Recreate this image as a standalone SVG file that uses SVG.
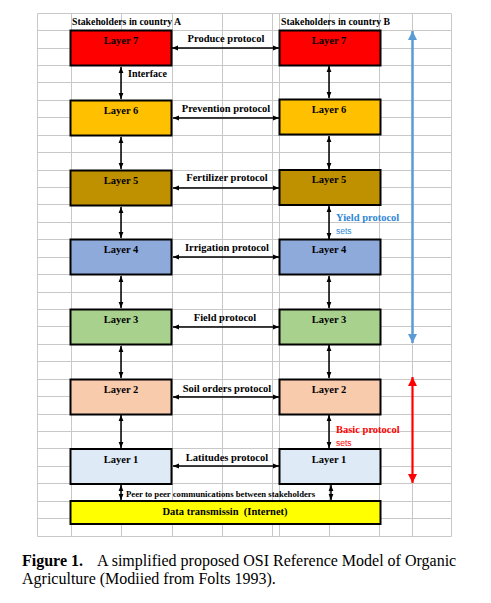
<svg xmlns="http://www.w3.org/2000/svg" width="491" height="603" viewBox="0 0 491 603">
<style>
.grid{stroke:#c8c8c8;stroke-width:1;fill:none}
.box{stroke:#000;stroke-width:2}
.t{font-family:"Liberation Serif","Times New Roman",serif;font-weight:bold;font-size:10.5px;fill:#000}
.lt{text-anchor:middle}
.c{stroke:#000;stroke-width:1.5;fill:none;marker-start:url(#ah);marker-end:url(#ah)}
.sets{font-family:"Liberation Sans",Arial,sans-serif;font-size:8.5px}
.cap{font-family:"Liberation Serif","Times New Roman",serif;font-size:16px;fill:#000}
</style>
<defs>
<marker id="ah" viewBox="0 0 10 10" refX="10" refY="5" markerWidth="6" markerHeight="6" markerUnits="userSpaceOnUse" orient="auto-start-reverse"><path d="M0,1 L10,5 L0,9 z" fill="#000"/></marker>
<marker id="ahb" viewBox="0 0 10 10" refX="10" refY="5" markerWidth="9" markerHeight="10" markerUnits="userSpaceOnUse" orient="auto-start-reverse"><path d="M0,0 L10,5 L0,10 z" fill="#5b9bd5"/></marker>
<marker id="ahr" viewBox="0 0 10 10" refX="10" refY="5" markerWidth="9" markerHeight="10" markerUnits="userSpaceOnUse" orient="auto-start-reverse"><path d="M0,0 L10,5 L0,10 z" fill="#ff0000"/></marker>
</defs>
<rect width="491" height="603" fill="#fff"/>
<g id="grid" class="grid">
<path d="M37.5,13.5V536.5M71.5,13.5V536.5M121.5,13.5V536.5M172.5,13.5V536.5M222.5,13.5V536.5M272.5,13.5V536.5M279.5,13.5V536.5M329.5,13.5V536.5M379.5,13.5V536.5M412.5,13.5V536.5M451.5,13.5V536.5"/>
<path d="M37.5,13.5H451.5M37.5,30.5H451.5M37.5,48.5H451.5M37.5,65.5H451.5M37.5,82.5H451.5M37.5,100.5H451.5M37.5,117.5H451.5M37.5,135.5H451.5M37.5,152.5H451.5M37.5,170.5H451.5M37.5,187.5H451.5M37.5,204.5H451.5M37.5,222.5H451.5M37.5,239.5H451.5M37.5,257.5H451.5M37.5,274.5H451.5M37.5,292.5H451.5M37.5,309.5H451.5M37.5,326.5H451.5M37.5,344.5H451.5M37.5,361.5H451.5M37.5,379.5H451.5M37.5,396.5H451.5M37.5,414.5H451.5M37.5,431.5H451.5M37.5,448.5H451.5M37.5,466.5H451.5M37.5,483.5H451.5M37.5,501.5H451.5M37.5,518.5H451.5M37.5,536.5H451.5"/>
</g>
<text class="t" x="72" y="25" style="font-size:9.8px">Stakeholders in country A</text>
<text class="t" x="281" y="25" style="font-size:9.8px">Stakeholders in country B</text>
<g id="connectors">
<line class="c" x1="172" y1="48" x2="279" y2="48"/>
<line class="c" x1="173" y1="118" x2="279" y2="118"/>
<line class="c" x1="173" y1="188" x2="279" y2="188"/>
<line class="c" x1="173" y1="257" x2="279" y2="257"/>
<line class="c" x1="173" y1="327" x2="279" y2="327"/>
<line class="c" x1="173" y1="397" x2="279" y2="397"/>
<line class="c" x1="173" y1="466" x2="279" y2="466"/>
<line class="c" x1="121" y1="67" x2="121" y2="99"/>
<line class="c" x1="121" y1="137" x2="121" y2="169"/>
<line class="c" x1="121" y1="207" x2="121" y2="238"/>
<line class="c" x1="121" y1="276" x2="121" y2="308"/>
<line class="c" x1="121" y1="346" x2="121" y2="378"/>
<line class="c" x1="121" y1="415" x2="121" y2="448"/>
<line class="c" x1="121" y1="485" x2="121" y2="500"/>
<line class="c" x1="329" y1="66" x2="329" y2="98"/>
<line class="c" x1="329" y1="136" x2="329" y2="169"/>
<line class="c" x1="329" y1="206" x2="329" y2="239"/>
<line class="c" x1="329" y1="276" x2="329" y2="308"/>
<line class="c" x1="329" y1="345" x2="329" y2="378"/>
<line class="c" x1="329" y1="415" x2="329" y2="448"/>
<line class="c" x1="331" y1="485" x2="331" y2="500"/>
<line x1="412.5" y1="31" x2="412.5" y2="343" stroke="#5b9bd5" stroke-width="2.5" marker-start="url(#ahb)" marker-end="url(#ahb)"/>
<line x1="412.5" y1="377" x2="412.5" y2="483" stroke="#ff0000" stroke-width="2.2" marker-start="url(#ahr)" marker-end="url(#ahr)"/>
</g>
<g id="labels">
<text class="t lt" x="226" y="42">Produce protocol</text>
<text class="t lt" x="226" y="112">Prevention protocol</text>
<text class="t lt" x="227" y="181">Fertilizer protocol</text>
<text class="t lt" x="227" y="251">Irrigation protocol</text>
<text class="t lt" x="225" y="321">Field protocol</text>
<text class="t lt" x="227" y="392">Soil orders protocol</text>
<text class="t lt" x="227" y="461">Latitudes protocol</text>
<text class="t" x="128" y="77" style="font-size:10px">Interface</text>
<text class="t" x="126" y="497" style="font-size:8.7px">Peer to peer communications between stakeholders</text>
<text class="t" x="336" y="221" style="fill:#2f86d6">Yield protocol</text>
<text class="sets" x="336" y="234" fill="#2f86d6">sets</text>
<text class="t" x="336" y="433" style="fill:#ff0000">Basic protocol</text>
<text class="sets" x="336" y="446" fill="#ff0000">sets</text>
</g>
<g id="A7"><rect class="box" x="70.5" y="30.5" width="101" height="35" fill="#ff0000"/><text class="t lt" x="121" y="44">Layer  7</text></g>
<g id="B7"><rect class="box" x="279.5" y="30.5" width="101" height="35" fill="#ff0000"/><text class="t lt" x="329" y="44">Layer  7</text></g>
<g id="A6"><rect class="box" x="70.5" y="100.5" width="101" height="35" fill="#ffc000"/><text class="t lt" x="121" y="114">Layer  6</text></g>
<g id="B6"><rect class="box" x="279.5" y="99.5" width="101" height="35" fill="#ffc000"/><text class="t lt" x="329" y="113">Layer  6</text></g>
<g id="A5"><rect class="box" x="70.5" y="170.5" width="101" height="35" fill="#bf9000"/><text class="t lt" x="121" y="184">Layer  5</text></g>
<g id="B5"><rect class="box" x="279.5" y="170" width="101" height="35" fill="#bf9000"/><text class="t lt" x="329" y="183">Layer  5</text></g>
<g id="A4"><rect class="box" x="70.5" y="239.5" width="101" height="35" fill="#8eaadb"/><text class="t lt" x="121" y="253">Layer  4</text></g>
<g id="B4"><rect class="box" x="279.5" y="239.5" width="101" height="35" fill="#8eaadb"/><text class="t lt" x="329" y="253">Layer  4</text></g>
<g id="A3"><rect class="box" x="70.5" y="309.5" width="101" height="35" fill="#a9d18e"/><text class="t lt" x="121" y="323">Layer  3</text></g>
<g id="B3"><rect class="box" x="279.5" y="309.5" width="101" height="35" fill="#a9d18e"/><text class="t lt" x="329" y="323">Layer  3</text></g>
<g id="A2"><rect class="box" x="70.5" y="379.5" width="101" height="35" fill="#f8cbad"/><text class="t lt" x="121" y="393">Layer  2</text></g>
<g id="B2"><rect class="box" x="279.5" y="379.5" width="101" height="35" fill="#f8cbad"/><text class="t lt" x="329" y="393">Layer  2</text></g>
<g id="A1"><rect class="box" x="70.5" y="449" width="101" height="35" fill="#deebf7"/><text class="t lt" x="121" y="463">Layer  1</text></g>
<g id="B1"><rect class="box" x="279.5" y="449" width="101" height="35" fill="#deebf7"/><text class="t lt" x="329" y="463">Layer  1</text></g>
<g id="data"><rect class="box" x="70.5" y="501" width="310" height="23" fill="#ffff00"/><text class="t lt" x="225" y="515" xml:space="preserve">Data transmissin  (Internet)</text></g>
<g id="caption">
<text class="cap" x="22" y="566"><tspan font-weight="bold">Figure 1.</tspan><tspan x="97">A simplified proposed OSI Reference Model of Organic</tspan></text>
<text class="cap" x="22" y="584">Agriculture (Modiied from Folts 1993).</text>
</g>
</svg>
